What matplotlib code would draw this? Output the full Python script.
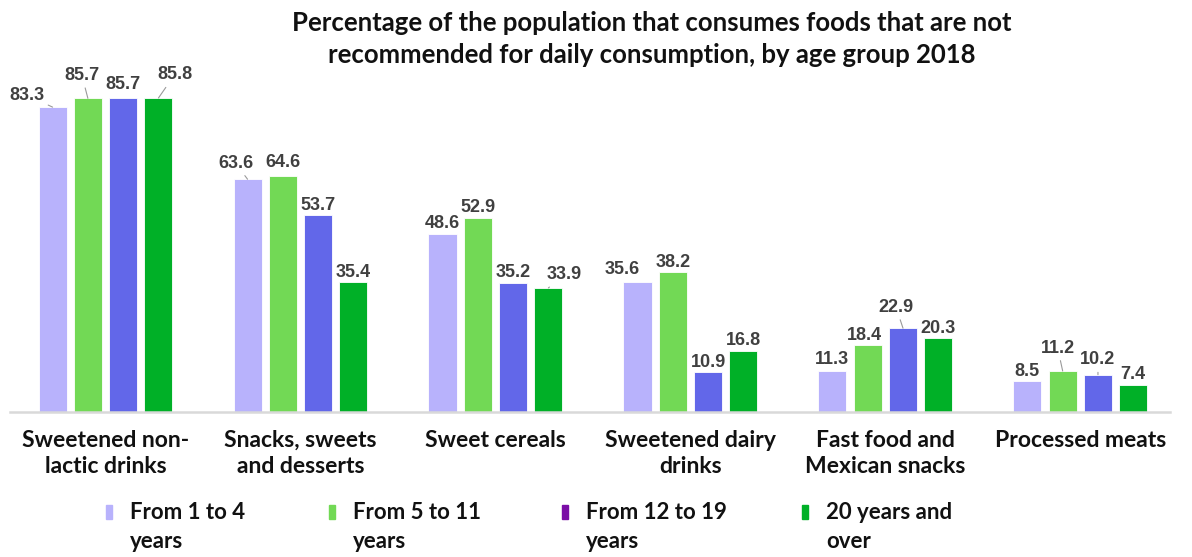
import numpy as np
import matplotlib
matplotlib.use("Agg")
import matplotlib.pyplot as plt
from matplotlib.patches import Rectangle

# data
categories = ["Sweetened non-\nlactic drinks", "Snacks, sweets\nand desserts", "Sweet cereals",
              "Sweetened dairy\ndrinks", "Fast food and\nMexican snacks", "Processed meats"]
series_names = ["From 1 to 4\nyears", "From 5 to 11\nyears", "From 12 to 19\nyears", "20 years and\nover"]
from_1_to_4 = [83.3, 63.6, 48.6, 35.6, 11.3, 8.5]
from_5_to_11 = [85.7, 64.6, 52.9, 38.2, 18.4, 11.2]
from_12_to_19 = [85.7, 53.7, 35.2, 10.9, 22.9, 10.2]
over_20 = [85.8, 35.4, 33.9, 16.8, 20.3, 7.4]
title = ("Percentage of the population that consumes foods that are not\n"
         "recommended for daily consumption, by age group 2018")

# styling
bar_colors = ["#B8B2FC", "#72D955", "#6267E9", "#00B027"]
legend_colors = ["#B8B2FC", "#72D955", "#7A0DA6", "#00B027"]
label_font = "Liberation Sans"
text_font = "Lato"

# label offsets in pixels (dx, up) from each bar top, plus which ones get a leader line
label_dx = [[-26, -12, 0, -15, 0, 0],
            [-6, 0, 0, 0, -3, -5],
            [0, 0, 0, 0, -7, 0],
            [16, 0, 16, 0, 0, 0]]
label_up = [[12, 16, 11, 12, 11, 9],
            [23, 13, 11, 10, 9, 23],
            [14, 10, 11, 10, 21, 15],
            [23, 10, 13, 10, 9, 10]]
leaders = [[1, 1, 0, 0, 0, 0],
           [1, 0, 0, 0, 0, 1],
           [0, 0, 0, 0, 1, 1],
           [1, 0, 1, 0, 0, 0]]

W, H = 1192, 557
fig = plt.figure(figsize=(W / 100, H / 100), dpi=100)
ax = fig.add_axes([10 / W, 1 - 412 / H, 1160 / W, 366 / H])

series = [from_1_to_4, from_5_to_11, from_12_to_19, over_20]
x = np.arange(len(categories))
step, width = 0.181, 0.144
for i, vals in enumerate(series):
    xs = x + (i - 1.5) * step
    ax.bar(xs, vals, width, color=bar_colors[i], edgecolor="white", linewidth=0.6, zorder=2)
    for j, v in enumerate(vals):
        props = None
        if leaders[i][j]:
            props = dict(arrowstyle="-", color="#9A9A9A", lw=0.8, shrinkA=1, shrinkB=0)
        ax.annotate(f"{v:.1f}", xy=(xs[j], v), xytext=(label_dx[i][j], label_up[i][j]),
                    textcoords="offset pixels", ha="center", va="center",
                    fontsize=13, fontweight="bold", color="#404040",
                    family=label_font, arrowprops=props, annotation_clip=False)

ax.set_xlim(-0.49, 5.46)
ax.set_ylim(0, 100)
ax.set_yticks([])
ax.set_xticks(x)
ax.set_xticklabels(categories, family=text_font, fontweight="bold", fontsize=16.5,
                   color="#111111", linespacing=1.27)
ax.tick_params(axis="x", length=0, pad=13)
for s in ["top", "left", "right"]:
    ax.spines[s].set_visible(False)
ax.spines["bottom"].set_color("#D9D9D9")
ax.spines["bottom"].set_linewidth(1.8)

fig.text(652 / W, 1 - 39 / H, title, ha="center", va="center", family=text_font,
         fontweight="bold", fontsize=18.5, color="#111111", linespacing=1.42)

# legend drawn by hand: small bar swatch at the first line
leg_text_x = [130, 353, 586, 826]
for i, name in enumerate(series_names):
    tx = leg_text_x[i]
    fig.patches.append(Rectangle(((tx - 24) / W, 1 - 519 / H), 6 / W, 14 / H,
                                 transform=fig.transFigure, color=legend_colors[i]))
    fig.text(tx / W, 1 - 502 / H, name, ha="left", va="top", family=text_font,
             fontweight="bold", fontsize=16, color="#111111", linespacing=1.46)

fig.savefig("out.png", dpi=100)
